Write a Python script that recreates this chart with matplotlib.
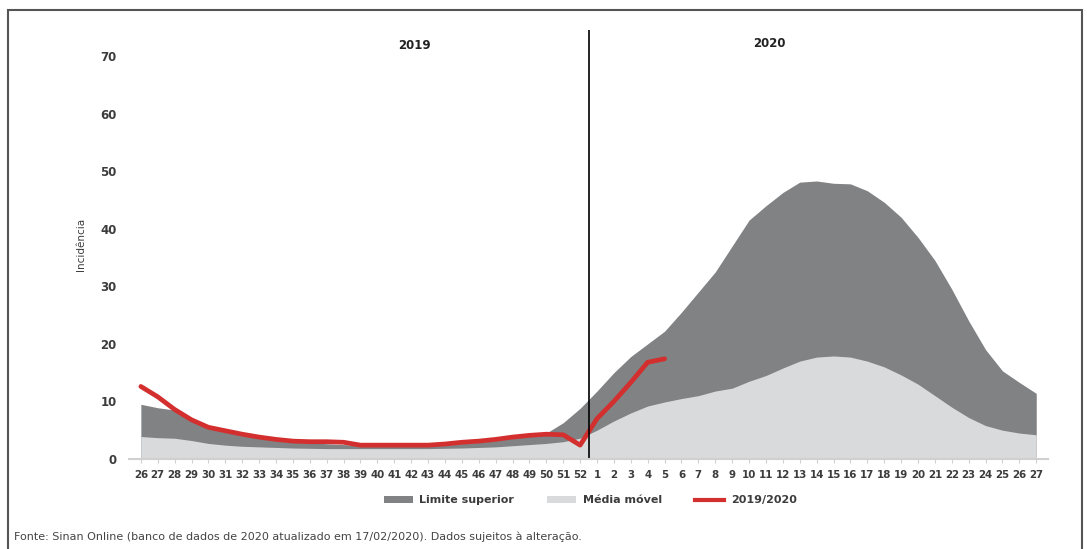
import matplotlib
matplotlib.use("Agg")
import matplotlib.pyplot as plt
import numpy as np
from matplotlib.patches import Patch, Rectangle
from matplotlib.lines import Line2D

# epidemiological weeks: 26..52 of 2019, then 1..27 of 2020
weeks_2019 = [str(w) for w in range(26, 53)]
weeks_2020 = [str(w) for w in range(1, 28)]
week_labels = weeks_2019 + weeks_2020

limite_superior = [
    9.5, 8.9, 8.5, 7.2, 5.7, 4.8, 4.1, 3.6, 3.2, 2.9,
    2.8, 2.65, 2.5, 2.35, 2.3, 2.25, 2.25, 2.3, 2.5, 2.7,
    2.9, 3.2, 3.6, 3.9, 4.5, 6.3, 8.8,
    11.8, 15.0, 17.8, 20.0, 22.2, 25.5, 29.0, 32.5, 37.0, 41.5,
    44.0, 46.3, 48.1, 48.3, 47.9, 47.8, 46.6, 44.6, 42.0, 38.5,
    34.5, 29.5, 24.0, 19.0, 15.3, 13.3, 11.4,
]
media_movel = [
    3.9, 3.7, 3.6, 3.2, 2.7, 2.4, 2.2, 2.1, 2.0, 1.9,
    1.85, 1.8, 1.8, 1.8, 1.8, 1.8, 1.8, 1.8, 1.85, 1.9,
    2.0, 2.1, 2.3, 2.5, 2.7, 3.0, 3.6,
    5.0, 6.6, 8.0, 9.2, 9.9, 10.5, 11.0, 11.8, 12.3, 13.5,
    14.5, 15.8, 17.0, 17.7, 17.9, 17.7, 17.0, 16.0, 14.6, 13.0,
    11.0, 9.0, 7.2, 5.8, 5.0, 4.5, 4.2,
]
incidencia_2019_2020 = [
    12.6, 10.8, 8.6, 6.8, 5.5, 4.9, 4.3, 3.8, 3.4, 3.1,
    3.0, 3.0, 2.9, 2.4, 2.4, 2.4, 2.4, 2.4, 2.6, 2.9,
    3.1, 3.4, 3.8, 4.1, 4.3, 4.2, 2.4,
    7.0, 10.0, 13.3, 16.8, 17.4,
]

dark = "#808284"
light = "#d9dadb"
red = "#d32f2f"
txt = "#3c3c3c"

fig = plt.figure(figsize=(10.87, 5.49), dpi=100)
ax = fig.add_axes([0.1187, 0.164, 0.8455, 0.781])

x = np.arange(len(week_labels))
ax.fill_between(x, 0, limite_superior, color=dark, linewidth=0)
ax.fill_between(x, 0, media_movel, color=light, linewidth=0)
xr = np.arange(len(incidencia_2019_2020))
ax.plot(xr, incidencia_2019_2020, color=red, lw=3.4, solid_capstyle="round",
        solid_joinstyle="round")

# divider between years
ax.axvline(len(weeks_2019) - 0.5, color="black", lw=1.2)

ax.set_xlim(-0.7, len(week_labels) - 0.3)
ax.set_ylim(0, 74.5)
ax.set_yticks(range(0, 71, 10))
ax.set_xticks(x)
ax.set_xticklabels(week_labels)

for s in ["top", "right", "left"]:
    ax.spines[s].set_visible(False)
ax.spines["bottom"].set_color("#d0d0d0")
ax.spines["bottom"].set_linewidth(1.5)
ax.tick_params(axis="y", length=0, pad=9, labelsize=8.5, labelcolor=txt)
ax.tick_params(axis="x", length=3, color="#d0d0d0", pad=5, labelsize=7.4,
               labelcolor=txt)
for lab in ax.get_xticklabels() + ax.get_yticklabels():
    lab.set_fontweight("bold")

ax.set_ylabel("Incidência", fontsize=7.5, color=txt, labelpad=10)

ax.text(0.311, 0.965, "2019", transform=ax.transAxes, ha="center", va="center",
        fontsize=8.5, fontweight="bold", color="#222222")
ax.text(0.697, 0.97, "2020", transform=ax.transAxes, ha="center", va="center",
        fontsize=8.5, fontweight="bold", color="#222222")

handles = [
    Patch(facecolor=dark, edgecolor="none", label="Limite superior"),
    Patch(facecolor=light, edgecolor="none", label="Média móvel"),
    Line2D([0], [0], color=red, lw=3, label="2019/2020"),
]
leg = fig.legend(handles=handles, loc="center", bbox_to_anchor=(0.543, 0.089),
                 ncol=3, frameon=False, fontsize=8, handlelength=2.6,
                 handleheight=0.55, handletextpad=0.6, columnspacing=3.0)
for t in leg.get_texts():
    t.set_fontweight("bold")
    t.set_color(txt)

fig.text(0.013, 0.022,
         "Fonte: Sinan Online (banco de dados de 2020 atualizado em 17/02/2020). "
         "Dados sujeitos à alteração.",
         fontsize=8, color="#444444", ha="left", va="center",
         family=["Liberation Sans Narrow", "DejaVu Sans"])

# outer frame
fig.patches.append(Rectangle((8 / 1087, -0.01), 1074 / 1087, 1 - 10 / 549 + 0.01,
                             transform=fig.transFigure, fill=False,
                             edgecolor="#555555", lw=1.5))

fig.savefig("out.png", dpi=100)
